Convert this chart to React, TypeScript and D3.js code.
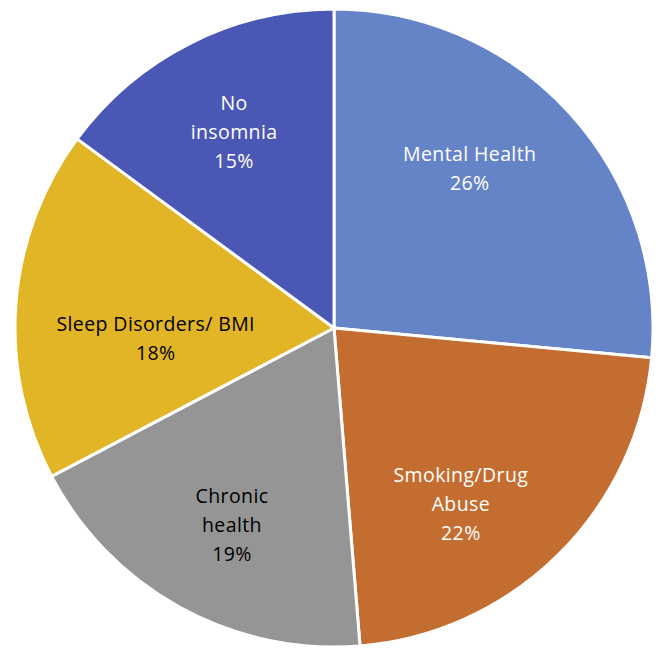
import React from "react";
import * as d3 from "d3";

const categories = ["Mental Health", "Smoking/Drug Abuse", "Chronic health", "Sleep Disorders/ BMI", "No insomnia"];
const values = [26.49, 22.21, 18.6, 17.8, 14.9];
const labelLines = [["Mental Health"], ["Smoking/Drug", "Abuse"], ["Chronic", "health"], ["Sleep Disorders/ BMI"], ["No", "insomnia"]];

const colors = ["#6584C8", "#C46D30", "#959595", "#E2B526", "#4A57B4"];
const textColors = ["#ffffff", "#ffffff", "#000000", "#000000", "#ffffff"];
// label anchor tweaks (radius fraction, angle in degrees clockwise from top)
const labelPos = [[0.655, 40.5], [0.68, 144.2], [0.695, 207.4], [0.56, 266.5], [0.69, 333]];

export default function App() {
  const W = 657, H = 650;
  const cx = 334, cy = 328, R = 319;
  const pie = d3.pie<number>().sort(null).value((d) => d)(values);
  const arc = d3.arc<d3.PieArcDatum<number>>().innerRadius(0).outerRadius(R);
  const lh = 29;
  return (
    <svg width={W} height={H} style={{ display: "block", position: "absolute", left: 0, top: 0, background: "#fff" }}>
      <g transform={`translate(${cx},${cy})`}>
        {pie.map((p, i) => (
          <path key={i} d={arc(p) || ""} fill={colors[i]} stroke="#fff" strokeWidth={3} strokeLinejoin="round" />
        ))}
        {pie.map((p, i) => {
          const [f, deg] = labelPos[i];
          const a = (deg * Math.PI) / 180;
          const x = Math.sin(a) * R * f;
          const y = -Math.cos(a) * R * f;
          const lines = [...labelLines[i], `${Math.round(values[i])}%`];
          const y0 = y - ((lines.length - 1) * lh) / 2;
          return (
            <text key={i} textAnchor="middle" fill={textColors[i]} fontFamily="'Open Sans', sans-serif" fontSize={19.5} letterSpacing={0.4}>
              {lines.map((t, j) => (
                <tspan key={j} x={x} y={y0 + j * lh} dy="0.35em">{t}</tspan>
              ))}
            </text>
          );
        })}
      </g>
    </svg>
  );
}
